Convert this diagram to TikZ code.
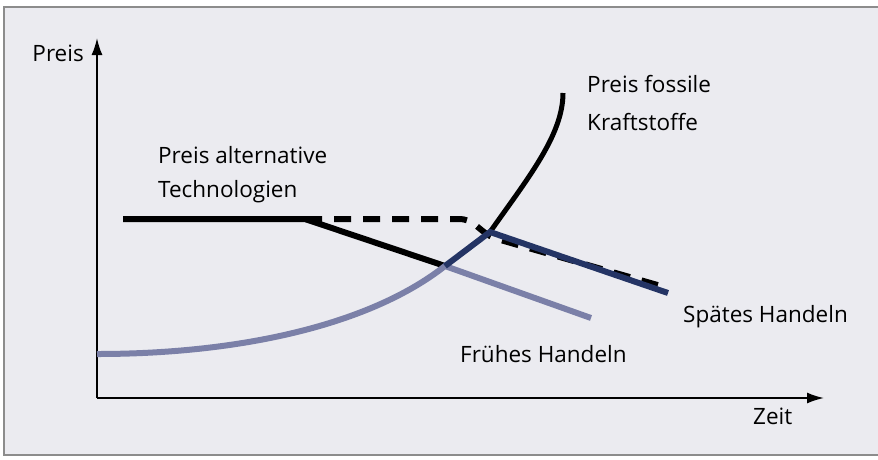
\documentclass[tikz,border=0pt]{standalone}
\usepackage{fontspec}
\setmainfont{Open Sans}
\usepackage{xcolor}
\usepackage{tikz}
\usetikzlibrary{arrows.meta}
\definecolor{bgGray}{HTML}{EBEBF0}
\definecolor{frameGray}{HTML}{8C8C8C}
\newcommand{\FRUEH}[0]{frueh}
\newcommand{\SPAET}[0]{spaet}
\definecolor{frueh}{HTML}{7B80A8}
\definecolor{spaet}{HTML}{243464}

\begin{document}
\begin{tikzpicture}[x=1pt, y=-1pt,
    lbl/.style={anchor=base west, inner sep=0pt, font=\fontsize{22.5}{27}\selectfont},
    axis/.style={line width=1.8pt, -{Latex[length=17pt,width=11pt]}},
    curve/.style={line width=6pt}]

  \useasboundingbox (0,0) rectangle (878,459);
  \fill[white] (0,0) rectangle (878,459);
  \draw[fill=bgGray, draw=frameGray, line width=1.2pt] (4,7) rectangle (884,455);

  \coordinate (o) at (97,398);
  \coordinate (ytip) at (97,38);
  \coordinate (xtip) at (824,398);

  \coordinate (start) at (123,219); %% flat price
  \coordinate (kink) at (305,219);  %% falls from here
  \coordinate (meet) at (445,266);  %% early meets fossile
  \coordinate (peak) at (490,232);  %% late meets fossile
  \coordinate (top) at (563,93);    %% fossile end
  \coordinate (low) at (97,354);    %% fossile start

  \draw[axis] (o) -- (ytip); %% y
  \draw[axis] (o) -- (xtip); %% x

  \draw[curve, dash pattern=on 17pt off 12pt, rounded corners=8pt]
  (kink) -- (468,219) -- ([yshift=-5pt]peak) -- (668,288); %% dashed
  \draw[curve] (start) -- (kink) -- (meet); %% alternative
  \draw[curve, line width=5pt] (peak) .. controls (528,178) and (563,135) .. (top); %% fossile
  \draw[curve, color=\FRUEH] (low) .. controls (240,354) and (370,325) .. (meet)
  -- (591,318); %% early
  \draw[curve, color=\SPAET, line join=miter] (meet) -- (peak) -- (668,293); %% late

  \node[lbl, anchor=base east] (preis) at (84,61) {Preis};
  \node[lbl] (zeit) at (753,424) {Zeit};
  \node[lbl] (alt1) at (158,163) {Preis alternative};
  \node[lbl] (alt2) at (158,197) {Technologien};
  \node[lbl] (fos1) at (587,92) {Preis fossile};
  \node[lbl] (fos2) at (587,130) {Kraftstoffe};
  \node[lbl] (spaet) at (683,322) {Spätes Handeln};
  \node[lbl] (frueh) at (460,362) {Frühes Handeln};

\end{tikzpicture}
\end{document}
